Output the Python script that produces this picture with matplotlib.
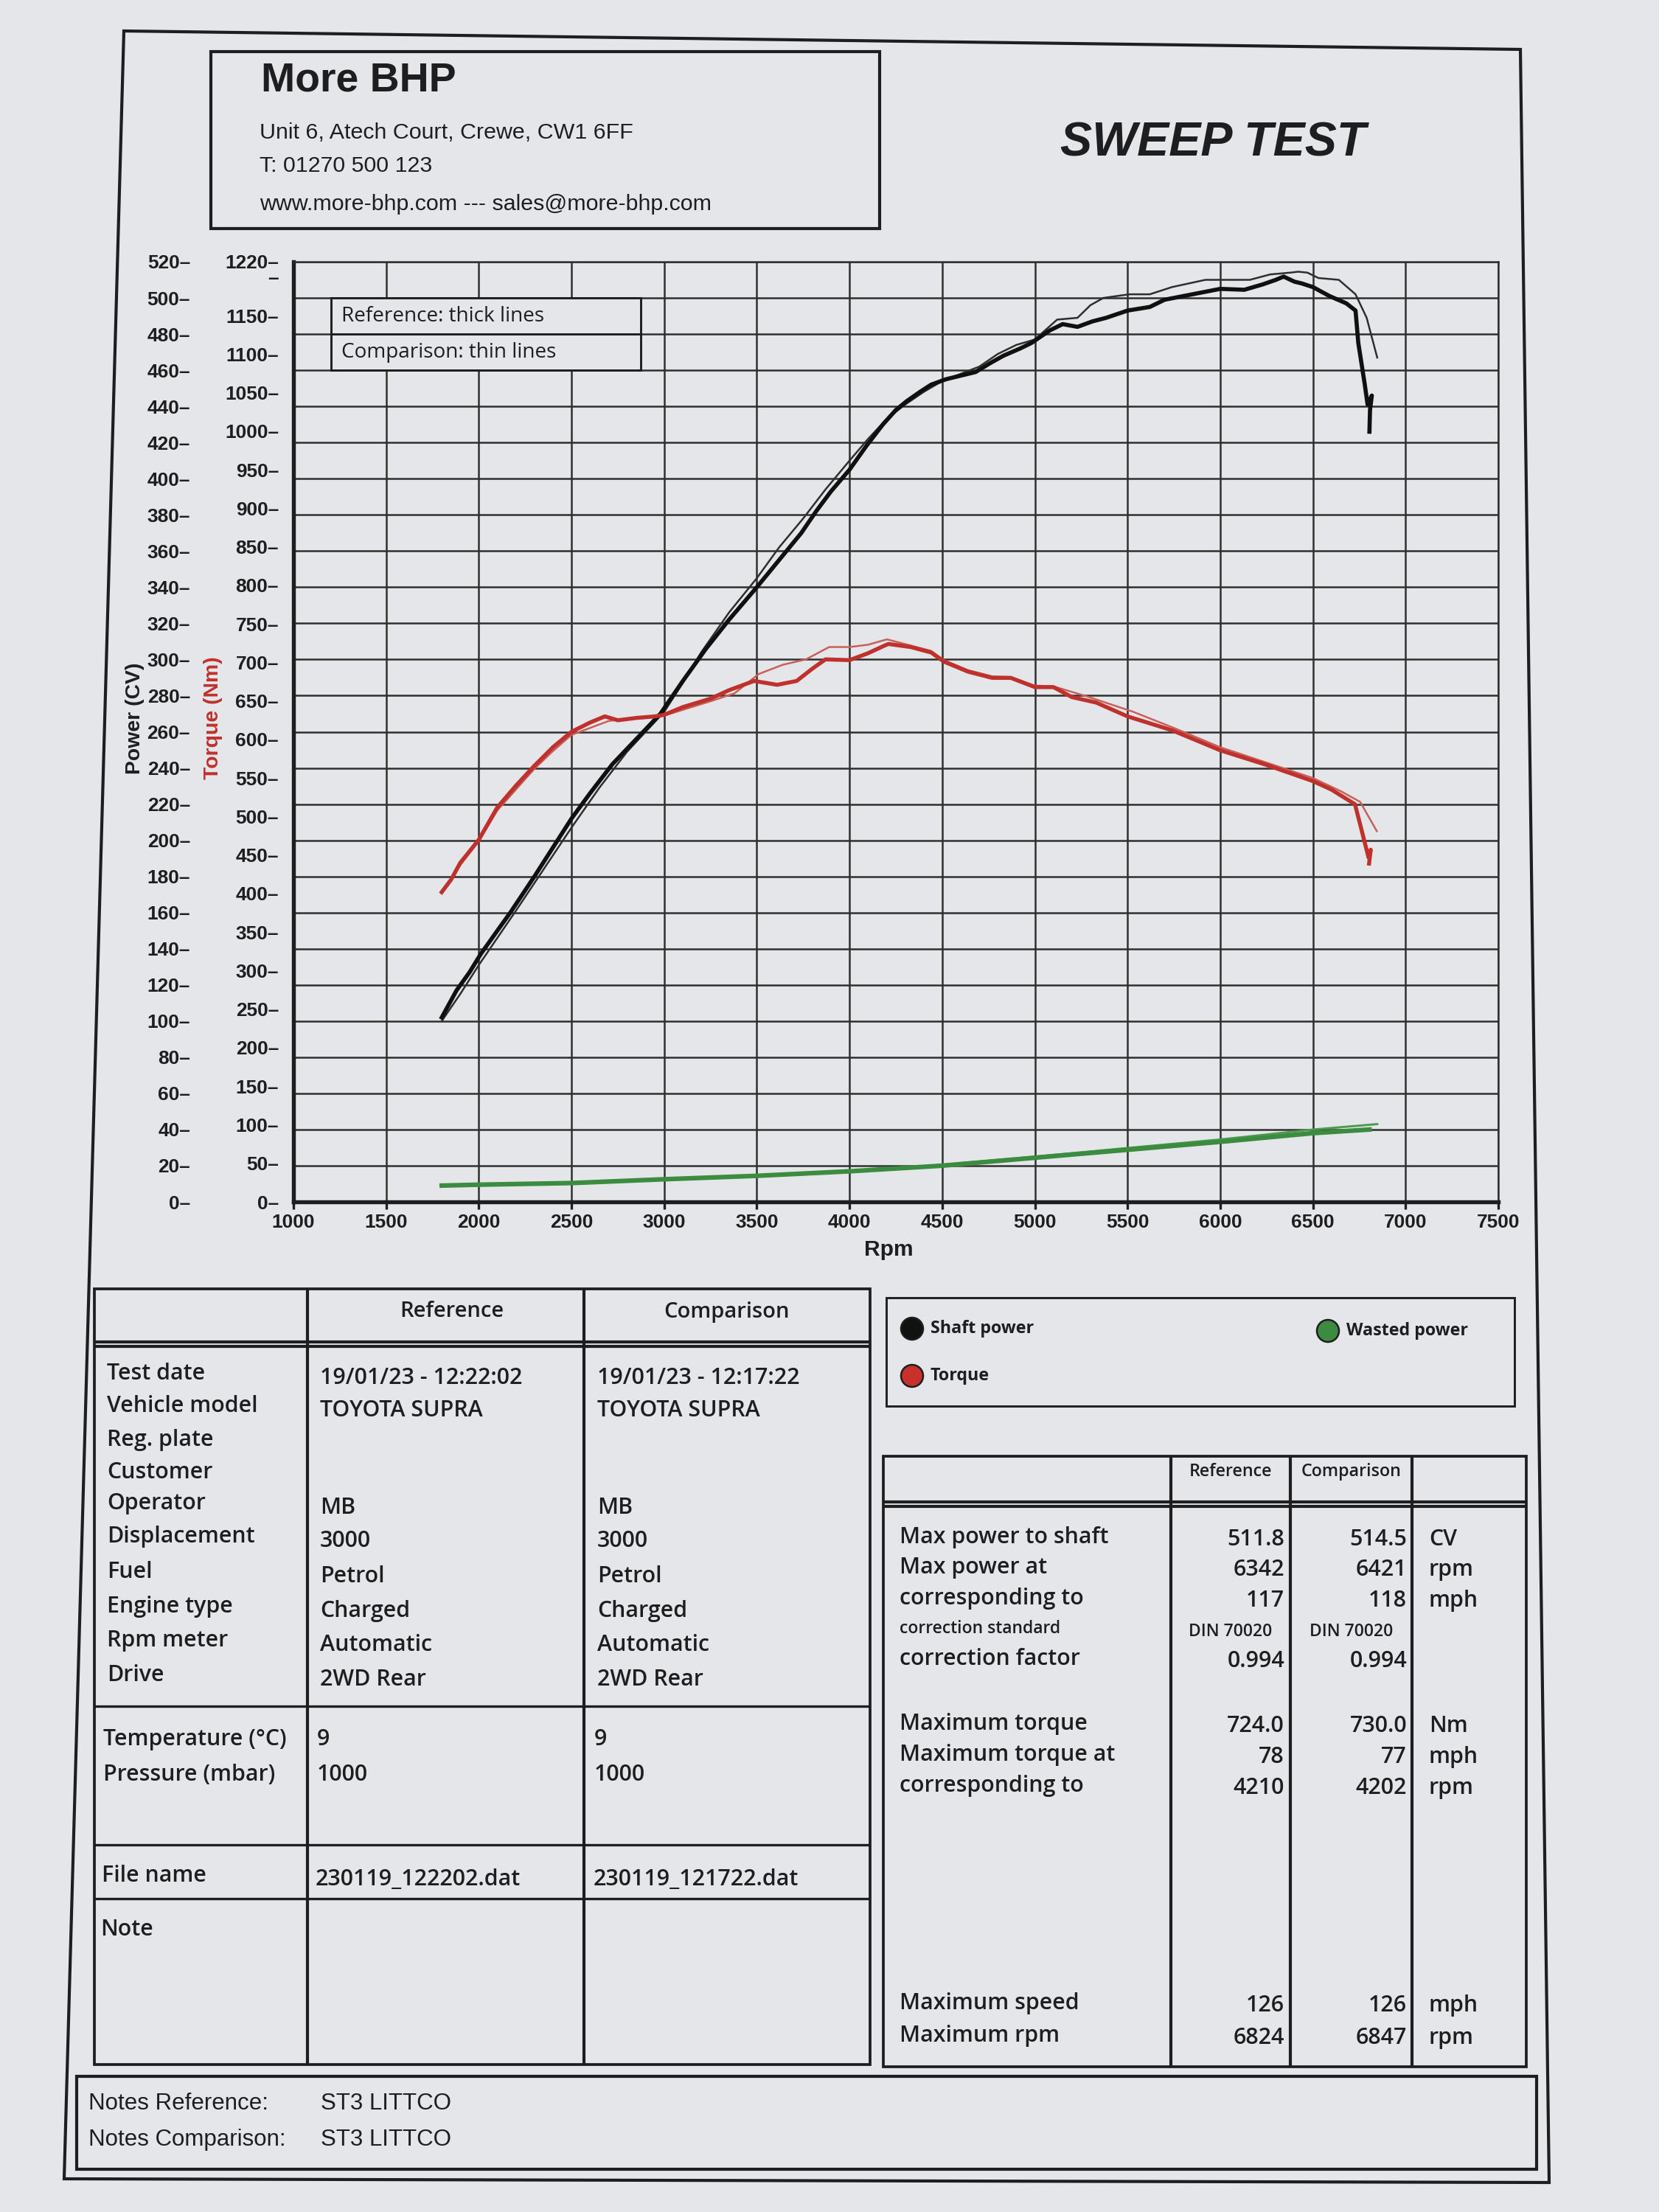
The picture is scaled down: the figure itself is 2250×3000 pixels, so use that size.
#!/usr/bin/env python3

import matplotlib.pyplot as plt
from matplotlib.patches import Rectangle, Circle, Polygon

# ---------------- curves ----------------
# shaft power, CV (reference = thick, comparison = thin)
rpm_power_ref = [1800, 1880, 1950, 2010, 2100, 2170, 2300, 2400, 2500, 2600,
                 2720, 2850, 2980, 3100, 3226, 3350, 3500, 3620, 3740, 3820,
                 3900, 4000, 4090, 4180, 4250, 4310, 4380, 4440, 4520, 4600,
                 4680, 4760, 4830, 4920, 4980, 5080, 5150, 5230, 5310, 5385,
                 5500, 5620, 5700, 5850, 6000, 6130, 6230, 6300, 6342, 6400,
                 6440, 6500, 6590, 6680, 6730, 6745, 6780, 6795, 6818, 6808,
                 6805]
power_ref = [102, 117, 127, 137, 150, 160, 180, 196, 212, 226,
             242, 256, 270, 288, 306, 322, 340, 355, 370, 382,
             393, 405, 418, 430, 438, 443, 448, 452, 455, 457,
             459, 464, 468, 472, 475, 482, 485.5, 484, 487, 489,
             493, 495, 499, 502, 505, 504.5, 507.5, 510, 511.8, 509,
             508, 506, 501, 497, 493, 475, 452, 441, 446, 438,
             426]

rpm_power_cmp = [1800, 1900, 2000, 2100, 2200, 2350, 2500, 2650, 2800, 2900,
                 3000, 3100, 3200, 3350, 3500, 3620, 3750, 3870, 4000, 4100,
                 4200, 4300, 4400, 4500, 4600, 4700, 4800, 4900, 5000, 5120,
                 5230, 5300, 5370, 5510, 5620, 5740, 5830, 5920, 6000, 6160,
                 6270, 6380, 6421, 6470, 6530, 6640, 6730, 6790, 6847]
power_cmp = [100, 115, 131, 146, 161, 184, 207, 229, 249, 260,
             271, 287, 304, 326, 345, 362, 378, 394, 410, 422,
             433, 441, 448, 454, 458, 462, 469, 474, 477, 488,
             489, 496, 500, 502, 502, 506, 508, 510, 510, 510,
             513, 514, 514.5, 514, 511, 510, 502, 489, 467]

# torque, Nm
rpm_torque_ref = [1800, 1850, 1900, 1950, 2000, 2100, 2200, 2300, 2400, 2500,
                  2600, 2680, 2750, 2850, 2950, 3000, 3100, 3250, 3350, 3485,
                  3610, 3715, 3800, 3870, 4000, 4100, 4190, 4210, 4330, 4440,
                  4510, 4640, 4770, 4870, 5000, 5100, 5200, 5330, 5500, 5740,
                  6000, 6250, 6500, 6600, 6727, 6760, 6800, 6812, 6803]
torque_ref = [402, 418, 440, 455, 470, 512, 540, 566, 590, 610,
              622, 630, 625, 628, 630, 632, 642, 653, 664, 676,
              671, 676, 692, 704, 703, 712, 722, 724, 720, 713,
              701, 688, 680, 680, 668, 668, 655, 648, 630, 612,
              586, 567, 546, 535, 516, 485, 447, 457, 439]

rpm_torque_cmp = [1800, 1900, 2000, 2100, 2200, 2300, 2400, 2500, 2600, 2700,
                  2800, 2900, 3000, 3255, 3380, 3510, 3640, 3765, 3890, 4000,
                  4100, 4202, 4330, 4440, 4510, 4640, 4770, 4870, 5000, 5100,
                  5280, 5530, 5750, 6000, 6250, 6500, 6650, 6755, 6800, 6845]
torque_cmp = [400, 437, 468, 508, 535, 562, 585, 606, 615, 624,
              627, 628, 631, 650, 660, 685, 697, 704, 720, 720,
              723, 730, 722, 715, 703, 690, 682, 681, 670, 669,
              656, 636, 615, 590, 570, 550, 533, 519, 500, 481]

# wasted power, CV
rpm_waste_ref = [1800, 2000, 2500, 3000, 3500, 4000, 4500, 5000, 5500, 6000, 6500, 6805]
waste_ref = [9, 9.5, 10.4, 12.5, 14.4, 16.9, 20, 24.4, 28.8, 33.2, 38, 40]
rpm_waste_cmp = [1800, 2500, 3000, 3500, 4000, 4300, 4500, 5000, 5500, 6000, 6500, 6847]
waste_cmp = [9, 10.2, 12.2, 14, 16.5, 19, 20.5, 25, 29.8, 34.5, 40, 43]

# axis ticks
rpm_ticks = list(range(1000, 7501, 500))
power_ticks = list(range(0, 521, 20))
torque_ticks = list(range(0, 1151, 50)) + [1200, 1220]
torque_tick_labels = [f"{v}–" for v in range(0, 1151, 50)] + ["–", "1220–"]

# ---------------- text tables ----------------
info_labels = ["Test date", "Vehicle model", "Reg. plate", "Customer", "Operator",
               "Displacement", "Fuel", "Engine type", "Rpm meter", "Drive"]
info_ref = ["19/01/23 - 12:22:02", "TOYOTA SUPRA", "", "", "MB",
            "3000", "Petrol", "Charged", "Automatic", "2WD Rear"]
info_cmp = ["19/01/23 - 12:17:22", "TOYOTA SUPRA", "", "", "MB",
            "3000", "Petrol", "Charged", "Automatic", "2WD Rear"]
env_labels = ["Temperature (°C)", "Pressure (mbar)"]
env_ref = ["9", "1000"]
env_cmp = ["9", "1000"]
file_ref = "230119_122202.dat"
file_cmp = "230119_121722.dat"

res_labels = ["Max power to shaft", "Max power at", "corresponding to",
              "correction standard", "correction factor",
              "Maximum torque", "Maximum torque at", "corresponding to",
              "Maximum speed", "Maximum rpm"]
res_ref = ["511.8", "6342", "117", "DIN 70020", "0.994", "724.0", "78", "4210", "126", "6824"]
res_cmp = ["514.5", "6421", "118", "DIN 70020", "0.994", "730.0", "77", "4202", "126", "6847"]
res_units = ["CV", "rpm", "mph", "", "", "Nm", "mph", "rpm", "mph", "rpm"]

legend_names = ["Shaft power", "Torque", "Wasted power"]

# ---------------- style ----------------
PAPER = "#e4e6ea"
INK = "#1e1e20"
RED = "#c0312c"
GREEN = "#3b8c3e"
W, H = 2250, 3000

NARROW = ["Liberation Sans Narrow", "Liberation Sans", "DejaVu Sans"]
ARIAL = ["Liberation Sans", "DejaVu Sans"]
HUMAN = ["Open Sans", "DejaVu Sans"]

fig = plt.figure(figsize=(W / 300, H / 300), dpi=300, facecolor=PAPER)

# page layer, one unit = one pixel, y pointing down
page = fig.add_axes([0, 0, 1, 1])
page.set_xlim(0, W)
page.set_ylim(H, 0)
page.axis("off")


def box(x0, y0, x1, y1, lw=0.8):
    page.add_patch(Rectangle((x0, y0), x1 - x0, y1 - y0, fill=False, ec=INK, lw=lw))


def hline(y, x0, x1, lw=0.8):
    page.plot([x0, x1], [y, y], color=INK, lw=lw, solid_capstyle="butt")


def vline(x, y0, y1, lw=0.8):
    page.plot([x, x], [y0, y1], color=INK, lw=lw, solid_capstyle="butt")


def txt(x, y, s, size=7.3, family=HUMAN, weight="semibold", ha="left", **kw):
    kw.setdefault("color", INK)
    page.text(x, y, s, fontsize=size, family=family, fontweight=weight,
              ha=ha, va="center", **kw)


# outer page border (photo is slightly skewed)
page.add_patch(Polygon([(168, 42), (2062, 67), (2101, 2960), (87, 2955)],
                       closed=True, fill=False, ec=INK, lw=1.0))

# header
box(286, 70, 1193, 310, lw=1.0)
txt(354, 110, "More BHP", size=13.3, family=ARIAL, weight="bold")
txt(352, 180, "Unit 6, Atech Court, Crewe, CW1 6FF", size=7.3, family=ARIAL, weight="normal")
txt(352, 225, "T: 01270 500 123", size=7.3, family=ARIAL, weight="normal")
txt(352, 277, "www.more-bhp.com --- sales@more-bhp.com", size=7.3, family=ARIAL, weight="normal")
txt(1645, 195, "SWEEP TEST", size=15.5, family=ARIAL, weight="bold", ha="center", style="italic")

# ---------------- chart ----------------
ax = fig.add_axes([398 / W, 1 - 1630 / H, (2032 - 398) / W, (1630 - 355) / H])
ax.patch.set_alpha(0)
ax.set_xlim(1000, 7500)
ax.set_ylim(0, 520)
ax.set_xticks(rpm_ticks)
ax.set_xticklabels([str(v) for v in rpm_ticks])
ax.set_yticks(power_ticks)
ax.set_yticklabels([f"{v}–" for v in power_ticks])
ax.grid(True, color="#2f2f2f", lw=0.6)
ax.set_axisbelow(True)
for side in ["top", "right"]:
    ax.spines[side].set_linewidth(0.6)
    ax.spines[side].set_color("#2f2f2f")
for side in ["left", "bottom"]:
    ax.spines[side].set_linewidth(1.3)
    ax.spines[side].set_color(INK)
ax.tick_params(axis="x", direction="out", length=2.4, width=0.8, pad=1.5,
               labelsize=6.3, colors=INK)
ax.tick_params(axis="y", length=0, pad=33.6, labelsize=6.3, colors=INK)
for lab in ax.get_xticklabels() + ax.get_yticklabels():
    lab.set_family(NARROW)
    lab.set_fontweight("bold")

ax.plot(rpm_waste_cmp, waste_cmp, color="#4d9a4f", lw=0.7, zorder=2)
ax.plot(rpm_waste_ref, waste_ref, color=GREEN, lw=1.5, zorder=2)
ax.plot(rpm_power_cmp, power_cmp, color="#2e2e2e", lw=0.6, zorder=2)
ax.plot(rpm_power_ref, power_ref, color="#101010", lw=1.35, zorder=2)

# torque scale sits on the left too
ax2 = ax.twinx()
ax2.set_ylim(0, 1220)
ax2.yaxis.tick_left()
ax2.set_yticks(torque_ticks)
ax2.set_yticklabels(torque_tick_labels)
ax2.tick_params(axis="y", length=0, pad=4.8, labelsize=6.3, colors=INK)
for lab in ax2.get_yticklabels():
    lab.set_family(NARROW)
    lab.set_fontweight("bold")
for s in ax2.spines.values():
    s.set_visible(False)
ax2.plot(rpm_torque_cmp, torque_cmp, color="#c8605a", lw=0.6)
ax2.plot(rpm_torque_ref, torque_ref, color=RED, lw=1.3)

# "thick / thin" key inside the plot
ax.add_patch(Rectangle((0.031, 460 / 520), 0.257, 40 / 520, transform=ax.transAxes,
                       fc=PAPER, ec=INK, lw=0.7, zorder=3))
ax.plot([0.031, 0.288], [480 / 520, 480 / 520], transform=ax.transAxes,
        color=INK, lw=0.7, zorder=4)
ax.text(0.04, 490 / 520, "Reference: thick lines", transform=ax.transAxes, fontsize=6.7,
        family=HUMAN, va="center", color=INK, zorder=5)
ax.text(0.04, 470 / 520, "Comparison: thin lines", transform=ax.transAxes, fontsize=6.7,
        family=HUMAN, va="center", color=INK, zorder=5)

txt(183, 974, "Power (CV)", size=6.8, family=NARROW, weight="bold", ha="center", rotation=90)
txt(289, 974, "Torque (Nm)", size=6.8, family=NARROW, weight="bold", ha="center",
    rotation=90, color=RED)
txt(1205, 1695, "Rpm", size=7.2, family=NARROW, weight="bold", ha="center")

# ---------------- left info table ----------------
LX0, LX1, LC1, LC2 = 128, 1180, 417, 792
box(LX0, 1748, LX1, 2800, lw=0.9)
vline(LC1, 1748, 2800, lw=1.0)
vline(LC2, 1748, 2800, lw=1.0)
hline(1820, LX0, LX1, lw=1.0)
hline(1826, LX0, LX1, lw=1.0)
hline(2314, LX0, LX1)
hline(2502, LX0, LX1)
hline(2575, LX0, LX1)
txt((LC1 + LC2) / 2 + 8, 1778, "Reference", ha="center", size=7.0)
txt((LC2 + LX1) / 2, 1780, "Comparison", ha="center", size=7.0)

info_y = [1863, 1907, 1953, 1997, 2039, 2084, 2132, 2179, 2225, 2272]
for i, name in enumerate(info_labels):
    txt(145, info_y[i], name)
    txt(434, info_y[i] + 6, info_ref[i])
    txt(810, info_y[i] + 6, info_cmp[i])
for i, name in enumerate(env_labels):
    y = 2359 + i * 48
    txt(140, y, name)
    txt(430, y, env_ref[i])
    txt(806, y, env_cmp[i])
txt(138, 2544, "File name")
txt(428, 2549, file_ref)
txt(805, 2549, file_cmp)
txt(136, 2617, "Note")

# ---------------- colour legend ----------------
box(1202, 1760, 2054, 1907, lw=0.7)
legend_pos = [(1237, 1802), (1237, 1866), (1801, 1805)]
legend_col = ["#111111", "#c8302c", "#3d8b40"]
for (cx, cy), name, col in zip(legend_pos, legend_names, legend_col):
    page.add_patch(Circle((cx, cy), 15, fc=col, ec=INK, lw=0.6))
    txt(cx + 25, cy, name, size=5.6, weight="bold")

# ---------------- right results table ----------------
RX0, RX1, RC1, RC2, RC3 = 1198, 2070, 1588, 1750, 1915
box(RX0, 1975, RX1, 2803, lw=0.9)
for x in (RC1, RC2, RC3):
    vline(x, 1975, 2803, lw=1.0)
hline(2037, RX0, RX1, lw=1.0)
hline(2043, RX0, RX1, lw=1.0)
txt((RC1 + RC2) / 2, 1996, "Reference", ha="center", size=5.6)
txt((RC2 + RC3) / 2, 1996, "Comparison", ha="center", size=5.6)

res_y = [2085, 2126, 2168, 2209, 2250, 2338, 2380, 2422, 2717, 2761]
for i, name in enumerate(res_labels):
    small = name == "correction standard"
    y = res_y[i]
    if small:
        txt(1220, y, name, size=5.5)
        txt((RC1 + RC2) / 2, y + 4, res_ref[i], size=5.5, ha="center")
        txt((RC2 + RC3) / 2, y + 4, res_cmp[i], size=5.5, ha="center")
    else:
        txt(1220, y, name)
        txt(1742, y + 3, res_ref[i], ha="right")
        txt(1908, y + 3, res_cmp[i], ha="right")
        txt(1938, y + 3, res_units[i])

# ---------------- notes box ----------------
box(104, 2816, 2084, 2942, lw=1.0)
txt(120, 2853, "Notes Reference:", size=7.5, family=NARROW, weight="normal")
txt(435, 2853, "ST3 LITTCO", size=7.5, family=NARROW, weight="normal")
txt(120, 2902, "Notes Comparison:", size=7.5, family=NARROW, weight="normal")
txt(435, 2902, "ST3 LITTCO", size=7.5, family=NARROW, weight="normal")

fig.savefig("out.png", dpi=300, facecolor=PAPER)
